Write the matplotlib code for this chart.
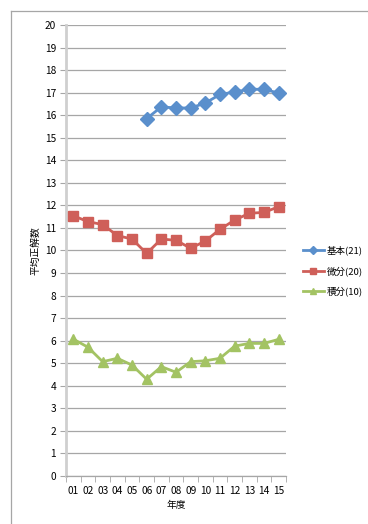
import matplotlib.pyplot as plt
from matplotlib.lines import Line2D

plt.rcParams['font.family'] = ['Noto Sans CJK JP', 'DejaVu Sans']

years = ['01', '02', '03', '04', '05', '06', '07', '08', '09', '10', '11', '12', '13', '14', '15']
kihon = [None, None, None, None, None, 15.85, 16.37, 16.32, 16.32, 16.54, 16.92, 17.03, 17.15, 17.15, 16.98]
bibun = [11.54, 11.28, 11.15, 10.66, 10.51, 9.87, 10.51, 10.45, 10.10, 10.42, 10.94, 11.35, 11.65, 11.69, 11.94]
sekibun = [6.07, 5.71, 5.07, 5.22, 4.92, 4.29, 4.85, 4.60, 5.07, 5.11, 5.22, 5.76, 5.88, 5.88, 6.06]
names = ['基本(21)', '微分(20)', '積分(10)']
colors = ['#5A8FCC', '#CF5F59', '#A3C363']
markers = ['D', 's', '^']

fig = plt.figure(figsize=(3.68, 5.24), dpi=100)
ax = fig.add_axes([66/368, 1-476/524, 220/368, 451/524])

x = list(range(len(years)))
for vals, c, m, lab in zip([kihon, bibun, sekibun], colors, markers, names):
    xs = [i for i, v in zip(x, vals) if v is not None]
    ys = [v for v in vals if v is not None]
    ax.plot(xs, ys, color=c, lw=2, marker=m, ms=7.5, mec=c, mfc=c, label=lab, zorder=3)

ax.set_xlim(-0.5, len(years) - 0.5)
ax.set_ylim(0, 20)
ax.set_yticks(range(0, 21))
ax.tick_params(axis='y', labelsize=7.3, length=4, color='#A6A6A6', pad=3)
ax.set_xticks(x)
ax.set_xticklabels(years)
ax.tick_params(axis='x', which='major', length=0, labelsize=7.3, pad=7)
ax.set_xticks([i - 0.5 for i in range(len(years) + 1)], minor=True)
ax.tick_params(axis='x', which='minor', length=4, color='#A6A6A6')
ax.yaxis.grid(True, color='#A6A6A6', lw=0.9)
ax.set_axisbelow(True)
for s in ['top', 'right']:
    ax.spines[s].set_visible(False)
ax.spines['left'].set_color('#CFCFCF')
ax.spines['left'].set_linewidth(2)
ax.spines['bottom'].set_color('#A6A6A6')
ax.spines['bottom'].set_linewidth(0.9)

ax.set_xlabel('年度', fontsize=7, labelpad=3)
ax.set_ylabel('平均正解数', fontsize=7, labelpad=3)

handles = [Line2D([0], [0], color=c, lw=2, marker=m, ms=4.5, mec=c, mfc=c) for c, m in zip(colors, markers)]
fig.legend(handles, names, loc='center left', bbox_to_anchor=(294/368, 1-271/524),
           frameon=False, fontsize=6.8, handlelength=2.3, handletextpad=0.3, labelspacing=1.1)

# outer chart frame (left and top edges)
fig.add_artist(Line2D([11/368, 11/368], [0, 1-11/524], color='#A6A6A6', lw=0.9, transform=fig.transFigure))
fig.add_artist(Line2D([11/368, 1], [1-11/524, 1-11/524], color='#A6A6A6', lw=0.9, transform=fig.transFigure))

fig.savefig('out.png', dpi=100)
